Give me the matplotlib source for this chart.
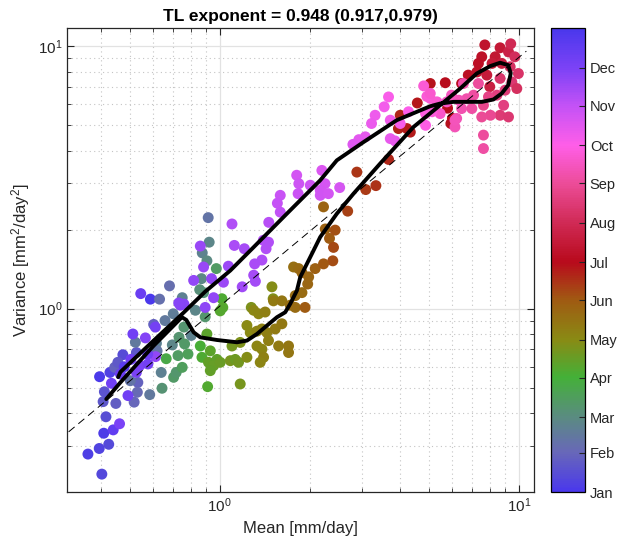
import numpy as np
import matplotlib
matplotlib.use("Agg")
import matplotlib.pyplot as plt
from matplotlib.colors import LinearSegmentedColormap
from matplotlib.ticker import NullFormatter

plt.rcParams['font.family'] = ['Liberation Sans', 'DejaVu Sans']
plt.rcParams['mathtext.fontset'] = 'custom'
plt.rcParams['mathtext.rm'] = 'Liberation Sans'
plt.rcParams['mathtext.it'] = 'Liberation Sans:italic'
plt.rcParams['mathtext.bf'] = 'Liberation Sans:bold'

# daily climatology: mean [mm/day], variance [mm2/day2], day of year
mean = [
    # Jan
    0.404, 0.363, 0.396, 0.426, 0.410, 0.417, 0.408, 0.450, 0.412, 0.397,
    0.430, 0.446, 0.475, 0.457, 0.518, 0.587, 0.602, 0.527, 0.533,
    # Feb
    0.531, 0.503, 0.523, 0.584, 0.638, 0.630, 0.680, 0.657, 0.700, 0.750,
    0.804, 0.695, 0.615, 0.618, 0.916, 0.923, 0.875, 0.907, 0.870, 0.830,
    # Mar
    0.642, 0.702, 0.716, 0.750, 0.726, 0.732, 0.764, 0.784, 0.663, 0.975,
    0.858, 0.884, 0.895, 0.760,
    # Apr
    1.018, 1.005, 0.907, 0.862, 0.931, 0.873, 0.918, 0.980, 0.955, 1.005,
    0.931, 0.912, 1.100, 1.086, 1.128, 1.157, 1.172, 1.172, 1.234, 1.276,
    1.496, 1.510, 1.025,
    # May
    1.300, 1.350, 1.420, 1.234, 1.266, 1.333, 1.385, 1.439, 1.534, 1.615,
    1.457, 1.385, 1.333, 1.403, 1.367, 1.575, 1.700, 1.700, 1.514, 1.615,
    1.722, 1.790, 1.930, 1.767, 1.837, 1.885, 1.985, 1.970, 1.885, 1.790,
    2.087, 2.225, 2.255, 2.330,
    # Jun
    2.434, 2.403, 2.390, 2.225, 2.680, 2.876, 3.080, 3.330, 3.670, 3.960,
    4.227, 4.340, 4.015, 4.580, 5.060, 5.680, 5.780, 5.930, 6.000, 6.440,
    6.780, 7.250,
    # Jul
    7.70, 8.66, 7.52, 8.34, 8.14, 7.33, 8.77, 7.82, 8.00, 9.24, 9.40,
    # Aug
    9.70, 9.36, 9.97, 8.66, 9.48, 9.85, 9.00, 8.45, 7.92, 8.90, 8.66, 9.24,
    7.62, 8.04, 7.52,
    # Sep
    7.62, 7.62, 7.06, 6.70, 6.97, 6.44, 6.30, 5.96, 5.75, 6.53, 7.33, 6.20,
    6.12, 6.12, 5.46, 5.33, 5.06, 4.93, 5.13, 4.88, 4.81, 4.88, 5.06,
    # Oct
    4.28, 4.015, 3.72, 3.67, 3.55, 3.31, 3.22, 3.72, 3.86, 3.07, 2.92, 2.79,
    2.52, 2.197, 2.25, 2.17, 2.17, 2.31, 2.01, 1.81, 1.84, 1.83, 1.595,
    1.56, 1.595,
    # Nov
    1.46, 1.40, 1.457, 1.43, 1.385, 1.31, 1.30, 1.317, 1.19, 1.10, 1.12,
    1.21, 1.07, 1.03, 0.862, 0.884, 0.94, 0.819, 0.955, 0.895, 0.76, 0.739,
    0.73,
    # Dec
    0.441, 0.463, 0.435, 0.494, 0.527, 0.541, 0.513, 0.565, 0.576, 0.611,
    0.545, 0.610, 0.575, 0.466, 0.480, 0.505,
]
variance = [
    0.234, 0.279, 0.293, 0.304, 0.335, 0.387, 0.442, 0.435, 0.482, 0.550,
    0.571, 0.597, 0.667, 0.624, 0.440, 1.086, 0.870, 0.680, 0.523,
    0.480, 0.531, 0.744, 0.470, 0.571, 1.086, 1.220, 0.900, 0.955, 1.100,
    0.790, 0.727, 0.737, 0.690, 2.220, 1.790, 1.630, 1.520, 1.300, 0.985,
    0.497, 0.547, 0.571, 0.597, 0.662, 0.777, 0.733, 0.671, 0.644, 1.420,
    1.180, 1.150, 0.930, 0.850,
    1.090, 0.980, 0.800, 0.720, 0.690, 0.652, 0.624, 0.640, 0.606, 0.624,
    0.580, 0.504, 0.720, 0.633, 0.640, 0.624, 0.516, 0.743, 0.652, 1.010,
    1.210, 1.090, 1.010,
    0.985, 0.955, 0.970, 0.862, 0.810, 0.820, 0.836, 0.810, 0.836, 0.875,
    0.755, 0.700, 0.720, 0.652, 0.624, 0.720, 0.720, 0.680, 1.070, 1.070,
    1.030, 1.010, 1.010, 1.440, 1.420, 1.370, 1.320, 1.240, 1.150, 1.120,
    1.420, 2.440, 2.010, 1.850,
    1.990, 1.710, 1.520, 1.480, 2.350, 3.310, 2.840, 2.940, 3.700, 4.850,
    4.850, 4.700, 5.450, 6.070, 7.200, 7.250, 5.800, 5.070, 5.300, 7.200,
    7.750, 7.970,
    10.10, 9.85, 9.10, 9.10, 8.59, 8.59, 8.59, 7.75, 7.00, 9.50, 10.20,
    9.10, 8.34, 7.86, 7.53, 7.30, 6.89, 6.79, 6.50, 6.41, 5.95, 5.45, 5.37,
    5.95, 5.45, 5.37,
    4.58, 4.07, 6.50, 6.30, 5.78, 5.78, 6.22, 6.50, 6.13, 7.20, 7.20, 5.30,
    4.92, 5.22, 5.53, 6.13, 6.32, 6.43, 5.62, 5.53, 7.05, 4.99, 6.60,
    5.62, 5.07, 5.22, 6.40, 5.87, 5.45, 5.07, 4.44, 4.35, 4.51, 4.40, 4.22,
    2.89, 3.36, 2.99, 2.82, 2.70, 2.74, 2.95, 3.22, 2.99, 2.74, 2.70,
    2.52, 2.33,
    2.13, 1.82, 1.79, 1.69, 1.53, 1.48, 1.34, 1.27, 1.21, 2.10, 1.74,
    1.69, 1.45, 1.26, 1.73, 1.44, 1.30, 1.28, 1.10, 1.01, 1.04, 1.03,
    1.05,
    0.345, 0.364, 0.519, 0.466, 0.571, 0.606, 0.800, 0.773, 0.615, 0.656,
    1.140, 0.850, 0.670, 0.563, 0.600, 0.640,
]
day = [
    10, 5, 8, 12, 3, 15, 20, 25, 18, 2, 6, 28, 14, 22, 30, 1, 26, 20, 28,
    33, 40, 45, 45, 50, 38, 36, 45, 48, 50, 52, 55, 50, 42, 40, 55, 52, 58,
    56, 55,
    65, 70, 68, 75, 72, 66, 70, 76, 84, 72, 62, 64, 68, 66,
    95, 98, 100, 92, 100, 95, 104, 102, 105, 106, 103, 96, 110, 112, 108,
    110, 112, 115, 118, 115, 118, 116, 97,
    122, 124, 128, 120, 121, 125, 126, 128, 130, 132, 127, 124, 123, 126,
    124, 131, 134, 133, 130, 134, 138, 140, 150, 138, 140, 142, 144, 143,
    141, 139, 148, 145, 146, 150,
    155, 158, 156, 152, 160, 165, 163, 166, 170, 172, 174, 175, 171, 176,
    178, 180, 181, 179, 182, 183, 185, 188,
    190, 195, 188, 193, 196, 186, 200, 198, 202, 205, 210,
    215, 218, 220, 222, 225, 216, 228, 230, 235, 232, 226, 224, 238, 240,
    242,
    245, 248, 246, 250, 248, 252, 255, 258, 260, 250, 244, 253, 255, 256,
    262, 265, 264, 266, 268, 270, 266, 272, 263,
    275, 278, 280, 276, 279, 282, 283, 284, 285, 286, 288, 290, 295, 292,
    294, 296, 297, 296, 298, 296, 299, 300, 302, 303, 305,
    308, 310, 311, 312, 313, 314, 316, 317, 318, 312, 315, 316, 320, 320,
    322, 322, 324, 324, 325, 326, 328, 330, 329,
    350, 335, 340, 340, 335, 335, 340, 330, 338, 325, 345, 338, 340, 345,
    355, 342,
]

# smoothed annual cycle (Jan -> Dec)
curve_mean = [0.418, 0.466, 0.530, 0.602, 0.667, 0.720, 0.748, 0.774, 0.819,
              0.862, 0.980, 1.143, 1.234, 1.333, 1.439, 1.555, 1.657, 1.722,
              1.813, 1.860, 2.035, 2.169, 2.465, 2.803, 3.440, 4.450, 5.460,
              6.370, 7.240, 8.030, 8.660, 9.220, 9.400, 9.220, 8.770, 8.230,
              7.530, 6.700, 6.050, 5.460, 5.060, 3.910, 3.030, 2.465, 2.169,
              1.679, 1.300, 1.086, 0.895, 0.758, 0.587, 0.516, 0.466, 0.458]
curve_var = [0.452, 0.523, 0.615, 0.722, 0.812, 0.887, 0.927, 0.905, 0.812,
             0.777, 0.759, 0.744, 0.755, 0.800, 0.861, 0.927, 0.968, 1.042,
             1.171, 1.317, 1.617, 1.872, 2.298, 2.740, 3.566, 4.920, 5.955,
             6.890, 7.865, 8.390, 8.640, 8.460, 7.865, 7.100, 6.600, 6.260,
             6.130, 6.130, 6.130, 6.040, 5.900, 5.220, 4.310, 3.670, 3.080,
             2.300, 1.714, 1.396, 1.160, 0.965, 0.735, 0.640, 0.573, 0.548]

# Taylor's law fit
exponent = 0.948
coef = 1.02
fit_x = np.array([0.25, 10.6])

month_names = ['Jan', 'Feb', 'Mar', 'Apr', 'May', 'Jun',
               'Jul', 'Aug', 'Sep', 'Oct', 'Nov', 'Dec']
month_days = [0, 31, 59, 90, 120, 151, 181, 212, 243, 273, 304, 334, 365]
month_hex = ['#4a38ec', '#6868b8', '#5a8c80', '#44b038', '#8a8a14', '#a05a12',
             '#b80a1c', '#d02a55', '#ec4c98', '#ff5ee8', '#c452f6', '#7c42f6',
             '#4a38ec']
cmap = LinearSegmentedColormap.from_list(
    'months', [(d / 365, c) for d, c in zip(month_days, month_hex)])

fig = plt.figure(figsize=(6.17, 5.47), dpi=100)
ax = fig.add_axes([0.1086, 0.1005, 0.757, 0.848])
cax = fig.add_axes([0.893, 0.1005, 0.055, 0.848])

sc = ax.scatter(mean, variance, c=day, cmap=cmap, vmin=0, vmax=365,
                s=62, linewidths=0, zorder=2)
ax.plot(fit_x, coef * fit_x ** exponent, color='k', lw=0.7,
        dashes=(8, 5), zorder=3)
ax.plot(curve_mean, curve_var, color='k', lw=2.8, zorder=4,
        solid_joinstyle='round', solid_capstyle='round')

ax.set_xscale('log')
ax.set_yscale('log')
ax.set_xlim(0.309, 11.25)
ax.set_ylim(0.2, 11.7)
ax.xaxis.set_minor_formatter(NullFormatter())
ax.yaxis.set_minor_formatter(NullFormatter())
ax.set_axisbelow(True)
ax.grid(True, which='major', color='#e2e2e2', lw=0.9, ls='-')
ax.grid(True, which='minor', color='#c4c4c4', lw=0.8, ls=(0, (1, 3)))
ax.tick_params(which='both', direction='in', top=True, right=True,
               colors='#262626', labelsize=11)
ax.tick_params(which='major', length=5, width=0.8)
ax.tick_params(which='minor', length=3, width=0.6)
for s in ax.spines.values():
    s.set_color('#262626')
    s.set_linewidth(0.9)

ax.set_xlabel('Mean [mm/day]', fontsize=12, color='#262626')
ax.set_ylabel('Variance [mm$^2$/day$^2$]', fontsize=12, color='#262626')
ax.set_title('TL exponent = 0.948 (0.917,0.979)', fontsize=12.5,
             fontweight='bold', pad=5)

cb = fig.colorbar(sc, cax=cax, ticks=month_days[:12])
cb.ax.set_yticklabels(month_names)
cb.ax.tick_params(direction='in', length=4, width=0.8, labelsize=10.5,
                  colors='#262626')
cb.outline.set_linewidth(0.9)

fig.savefig('out.png', dpi=100)
